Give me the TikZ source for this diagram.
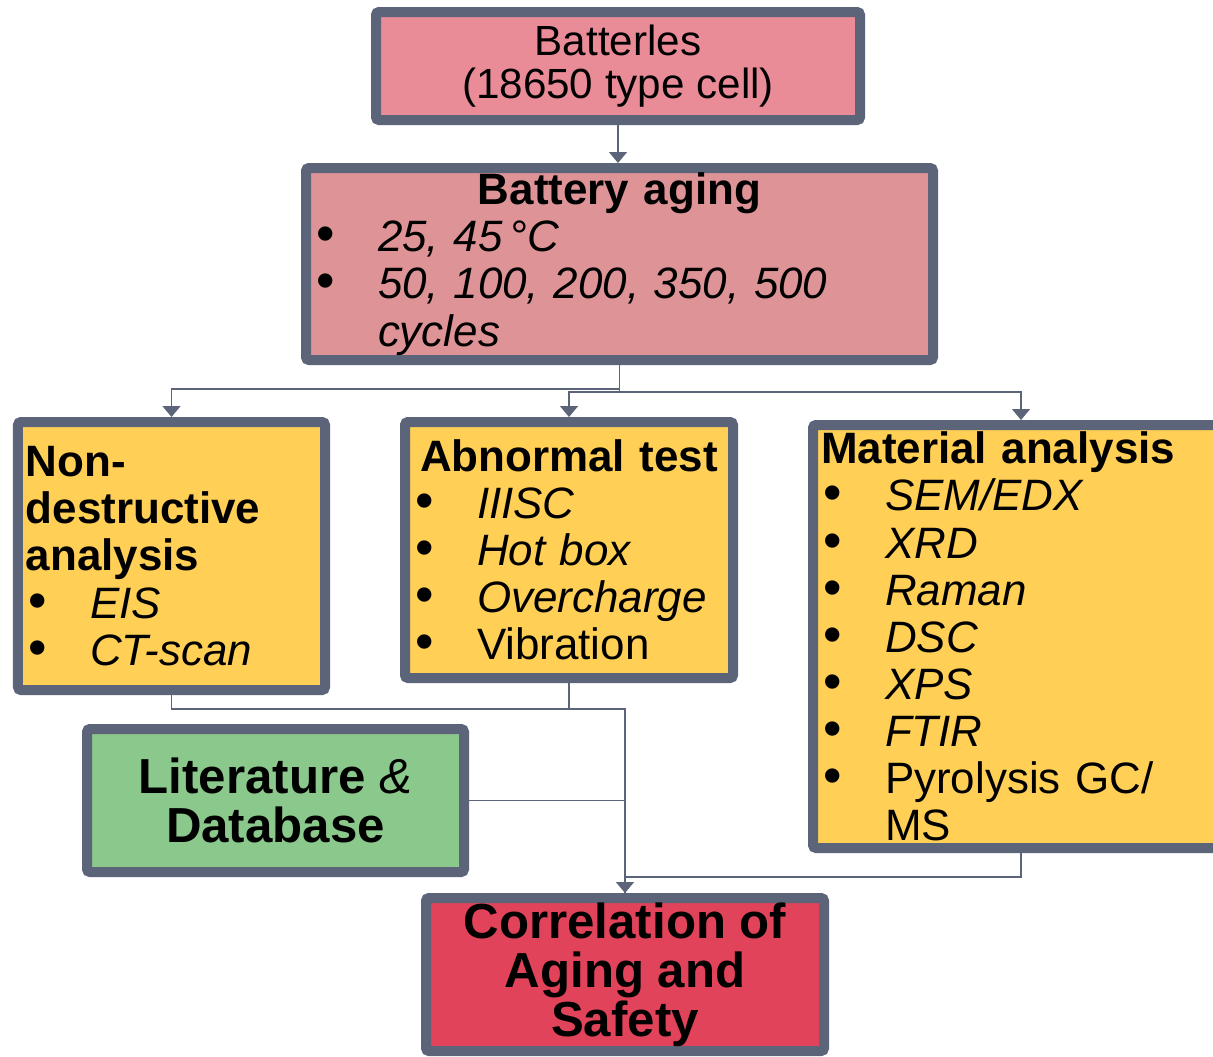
\documentclass[tikz,border=0pt]{standalone}
\usepackage{fontspec}
\setmainfont{Liberation Sans}
\usetikzlibrary{arrows.meta}
\definecolor{frame}{RGB}{91,100,120}
\definecolor{cellpink}{RGB}{234,139,152}
\definecolor{agepink}{RGB}{222,148,150}
\definecolor{testyellow}{RGB}{255,208,85}
\definecolor{litgreen}{RGB}{139,200,140}
\definecolor{corred}{RGB}{224,67,90}
\setlength{\parindent}{0pt}
\setlength{\parskip}{0pt}
\newcommand{\itm}[1]{\hangindent=0.64cm\hangafter=1\noindent
   \makebox[0.64cm][l]{\hspace{0.02cm}{\fontsize{15}{13.4}\selectfont\textbullet}}{#1}\par}
\newcommand{\hdc}[1]{{\centering\bfseries #1\par}}
\newcommand{\hdl}[1]{{\bfseries #1\par}}

\begin{document}
\begin{tikzpicture}[
   box/.style={draw=frame,line width=0.1cm,rounded corners=0.03cm,inner xsep=0.03cm,inner ysep=0pt,
               font=\fontsize{12.5}{13.4}\selectfont},
   big/.style={font=\fontsize{14}{13.9}\selectfont\bfseries},
   conn/.style={draw=frame,line width=0.4pt},
   tip/.style={-{Triangle[width=0.18cm,length=0.11cm]}}]
   \useasboundingbox (0,0) rectangle (12.13,-10.56);
   \clip (0,0) rectangle (12.13,-10.56);
   \node[box,fill=cellpink,minimum width=4.84cm,minimum height=1.08cm,align=center,
         font=\fontsize{12}{12.3}\selectfont] (bat) at (6.18,-0.66) {Batterles\\(18650 type cell)};
   \node[box,fill=agepink,minimum width=6.27cm,minimum height=1.92cm,text width=6.11cm,align=left]
         (age) at (6.195,-2.64)
         {\hdc{Battery aging}\itm{\itshape 25, 45\,°C}\itm{\itshape 50, 100, 200, 350, 500\newline cycles}};
   \node[box,fill=testyellow,minimum width=3.07cm,minimum height=2.68cm,text width=2.91cm,align=left]
         (ndt) at (1.715,-5.56)
         {\hdl{Non-\newline destructive\newline analysis}\itm{\itshape EIS}\itm{\itshape CT-scan}};
   \node[box,fill=testyellow,minimum width=3.28cm,minimum height=2.56cm,text width=3.12cm,align=left]
         (abn) at (5.69,-5.50)
         {\hdc{Abnormal test}\itm{\itshape IIISC}\itm{\itshape Hot box}\itm{\itshape Overcharge}\itm{Vibration}};
   \node[box,fill=testyellow,minimum width=4.16cm,minimum height=4.23cm,text width=4.0cm,align=left]
         (mat) at (10.21,-6.365)
         {\hdl{Material analysis}\itm{\itshape SEM/EDX}\itm{\itshape XRD}\itm{\itshape Raman}\itm{\itshape DSC}%
          \itm{\itshape XPS}\itm{\itshape FTIR}\itm{Pyrolysis GC/\newline MS}};
   \node[box,big,fill=litgreen,minimum width=3.77cm,minimum height=1.43cm,align=center]
         (lit) at (2.755,-8.005) {Literature {\mdseries\rmfamily\itshape\&}\\Database};
   \node[box,big,fill=corred,minimum width=3.98cm,minimum height=1.53cm,align=center]
         (cor) at (6.25,-9.745) {Correlation of\\Aging and\\Safety};

   \draw[conn,tip] (bat.south) -- (bat.south |- age.north);
   \draw[conn,tip] (age.south) -- ++(0,-0.24) -| (ndt.north);
   \draw[conn,tip] (age.south) -- ++(0,-0.27) -| (abn.north);
   \draw[conn,tip] (age.south) -- ++(0,-0.27) -| (mat.north);
   \draw[conn] (ndt.south) -- ++(0,-0.14) -| (cor.north);
   \draw[conn] (abn.south) -- ++(0,-0.26) -| (cor.north);
   \draw[conn] (lit.east) -| (cor.north);
   \draw[conn,tip] (mat.south) -- ++(0,-0.24) -| (cor.north);
\end{tikzpicture}
\end{document}
